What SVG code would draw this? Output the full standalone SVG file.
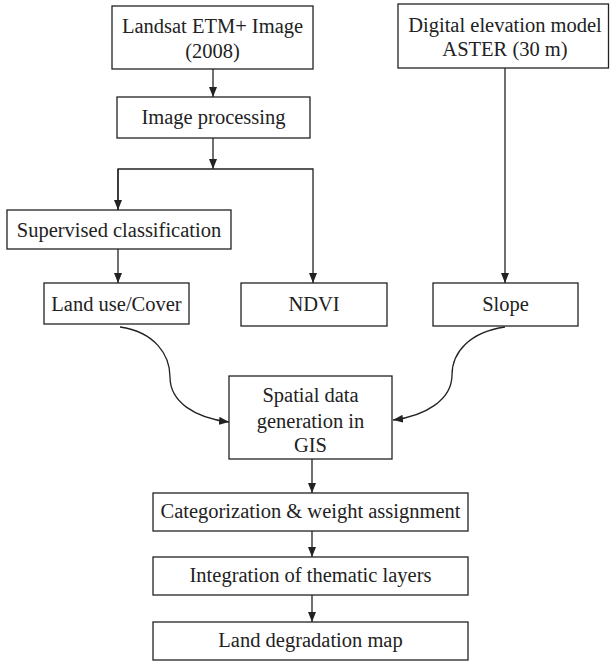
<svg xmlns="http://www.w3.org/2000/svg" width="610" height="661" viewBox="0 0 610 661">
<style>
.box{fill:#fff;stroke:#222;stroke-width:1.3}
.t{font-family:"Liberation Serif","Times New Roman",serif;font-size:20.5px;fill:#222;text-anchor:middle}
.c{fill:none;stroke:#222;stroke-width:1.3}
</style>
<defs>
<marker id="ah" viewBox="0 0 10 8" refX="10" refY="4" markerWidth="10" markerHeight="8" markerUnits="userSpaceOnUse" orient="auto">
<path d="M0,0 L10,4 L0,8 Z" fill="#222"/>
</marker>
</defs>
<rect width="610" height="661" fill="#fff"/>
<g id="connectors">
<path class="c" d="M213,69 V97" marker-end="url(#ah)"/>
<path class="c" d="M213,138 V169" marker-end="url(#ah)"/>
<path class="c" d="M118,210 V169 H313 V283" marker-end="url(#ah)"/>
<path class="c" d="M118,169 V210" marker-end="url(#ah)"/>
<path class="c" d="M118,249 V283" marker-end="url(#ah)"/>
<path class="c" d="M505,68 V283" marker-end="url(#ah)"/>
<path class="c" d="M120,327 C155,332 170,355 170,377 C170,402 195,418 229,422" marker-end="url(#ah)"/>
<path class="c" d="M505,327 C470,332 452,352 452,375 C452,400 425,416 393,420" marker-end="url(#ah)"/>
<path class="c" d="M312,459 V493" marker-end="url(#ah)"/>
<path class="c" d="M312,531 V557" marker-end="url(#ah)"/>
<path class="c" d="M312,595 V622" marker-end="url(#ah)"/>
</g>
<g id="landsat"><rect class="box" x="112" y="6" width="201" height="63"/><text class="t" x="212.5" y="33">Landsat ETM+ Image</text><text class="t" x="212.5" y="58">(2008)</text></g>
<g id="dem"><rect class="box" x="398" y="4" width="210.5" height="64"/><text class="t" x="505" y="32">Digital elevation model</text><text class="t" x="505" y="56">ASTER (30 m)</text></g>
<g id="imageproc"><rect class="box" x="117" y="97" width="193" height="41"/><text class="t" x="213.5" y="124">Image processing</text></g>
<g id="supervised"><rect class="box" x="7" y="210" width="224" height="39"/><text class="t" x="119" y="237">Supervised classification</text></g>
<g id="landuse"><rect class="box" x="44" y="283" width="145" height="41"/><text class="t" x="116.5" y="311">Land use/Cover</text></g>
<g id="ndvi"><rect class="box" x="241" y="283" width="146" height="43"/><text class="t" x="314" y="311">NDVI</text></g>
<g id="slope"><rect class="box" x="433" y="283" width="145" height="43"/><text class="t" x="505.5" y="311">Slope</text></g>
<g id="spatial"><rect class="box" x="229" y="376" width="163" height="83"/><text class="t" x="310.5" y="402">Spatial data</text><text class="t" x="310.5" y="428">generation in</text><text class="t" x="310.5" y="452">GIS</text></g>
<g id="categorization"><rect class="box" x="153" y="493" width="315" height="38"/><text class="t" x="310.5" y="518">Categorization &amp; weight assignment</text></g>
<g id="integration"><rect class="box" x="153" y="557" width="315" height="38"/><text class="t" x="310.5" y="582">Integration of thematic layers</text></g>
<g id="landdeg"><rect class="box" x="153" y="622" width="315" height="38"/><text class="t" x="310.5" y="647">Land degradation map</text></g>
</svg>
